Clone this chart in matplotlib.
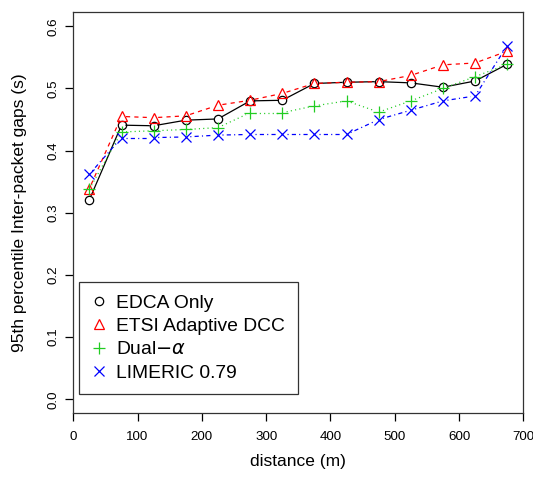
import numpy as np
import matplotlib
matplotlib.use("Agg")
import matplotlib.pyplot as plt
from matplotlib.lines import Line2D

plt.rcParams['font.family'] = ['Liberation Sans', 'DejaVu Sans']
plt.rcParams['lines.scale_dashes'] = False
plt.rcParams['mathtext.fontset'] = 'dejavusans'

### values
distance = [25, 75, 125, 175, 225, 275, 325, 375, 425, 475, 525, 575, 625, 675]
edca = [0.321, 0.441, 0.440, 0.449, 0.451, 0.480, 0.481,
        0.508, 0.510, 0.511, 0.509, 0.502, 0.512, 0.539]
etsi = [0.339, 0.455, 0.453, 0.456, 0.473, 0.481, 0.492,
        0.508, 0.510, 0.511, 0.521, 0.538, 0.541, 0.560]
dual = [0.338, 0.430, 0.432, 0.434, 0.437, 0.461, 0.461,
        0.472, 0.480, 0.462, 0.480, 0.500, 0.519, 0.539]
limeric = [0.362, 0.421, 0.421, 0.422, 0.425, 0.426, 0.426,
           0.426, 0.426, 0.450, 0.465, 0.480, 0.488, 0.569]
names = ['EDCA Only', 'ETSI Adaptive DCC', r'Dual$-\alpha$', 'LIMERIC 0.79']
xticks = [0, 100, 200, 300, 400, 500, 600, 700]
yticks = [0.0, 0.1, 0.2, 0.3, 0.4, 0.5, 0.6]

fig = plt.figure(figsize=(5.33, 4.78), dpi=100)
ax = fig.add_axes([0.1375, 0.136, 0.8443, 0.8389])
ax.set_xlim(0, 700)
ax.set_ylim(-0.022, 0.623)

styles = [
    dict(color='black', marker='o', ms=6, ls='-', dashes=None),
    dict(color='#FF0000', marker='^', ms=7, ls='--', dashes=(3, 3)),
    dict(color='#22CC22', marker='+', ms=9, ls=':', dashes=(0.8, 2.3)),
    dict(color='#0000FF', marker='x', ms=6.5, ls='-.', dashes=(0.8, 2.3, 3, 2.3)),
]


def gapped(ax, x, y, gap, st):
    # R type="b": line segments stop short of the points
    pts = ax.transData.transform(np.column_stack([x, y]))
    inv = ax.transData.inverted()
    for p0, p1 in zip(pts[:-1], pts[1:]):
        d = p1 - p0
        L = np.hypot(*d)
        if L <= 2 * gap:
            continue
        a = p0 + d / L * gap
        b = p1 - d / L * gap
        seg = inv.transform(np.array([a, b]))
        kw = dict(color=st['color'], lw=0.9)
        if st['dashes'] is not None:
            kw['dashes'] = st['dashes']
        ax.plot(seg[:, 0], seg[:, 1], **kw)


series = [edca, etsi, dual, limeric]
for vals, st in zip(series, styles):
    gapped(ax, distance, vals, 4.5, st)
    ax.plot(distance, vals, ls='none', marker=st['marker'], ms=st['ms'],
            mfc='none', mec=st['color'], mew=0.9)

ax.set_xticks(xticks)
ax.set_xticklabels([str(t) for t in xticks])
ax.set_yticks(yticks)
ax.set_yticklabels(['%.1f' % t for t in yticks], rotation=90, va='center')
ax.tick_params(axis='both', direction='out', length=6, width=0.9, labelsize=9.6)
ax.tick_params(axis='x', pad=7)
ax.tick_params(axis='y', pad=4)
for s in ax.spines.values():
    s.set_linewidth(0.9)
    s.set_color('#333333')

ax.set_xlabel('distance (m)', fontsize=12.5, labelpad=8)
ax.set_ylabel('95th percentile Inter-packet gaps (s)', fontsize=12.5, labelpad=15)

handles = [Line2D([], [], ls='none', marker=st['marker'], ms=st['ms'],
                  mfc='none', mec=st['color'], mew=0.9) for st in styles]
leg = ax.legend(handles, names, loc='lower left', bbox_to_anchor=(0.012, 0.0465),
                fontsize=13.9, frameon=True, fancybox=False, edgecolor='black',
                handlelength=0.8, handletextpad=0.5, borderpad=0.65,
                labelspacing=0.3, borderaxespad=0)
leg.get_frame().set_linewidth(0.9)

fig.savefig('out.png', dpi=100)
